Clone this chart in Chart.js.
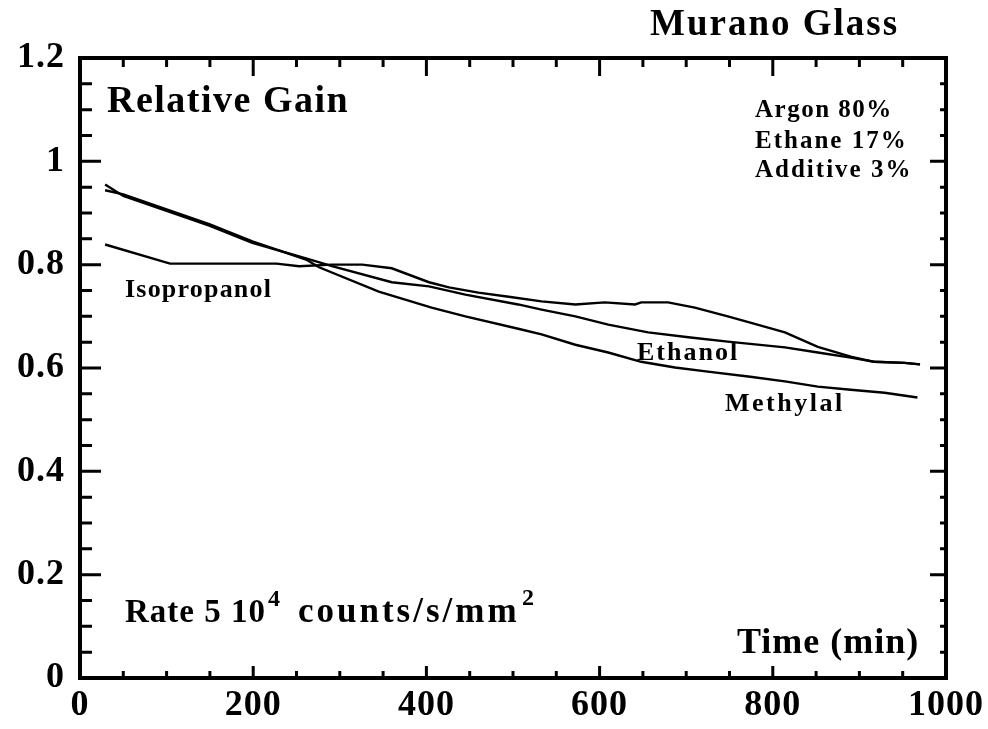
<!DOCTYPE html>
<html>
<head>
<meta charset="utf-8">
<script src="https://cdn.jsdelivr.net/npm/chart.js@4.4.1/dist/chart.umd.min.js"></script>
<style>
  html, body { margin: 0; padding: 0; background: #fff; }
  #wrap { width: 988px; height: 729px; position: relative; }
</style>
</head>
<body>
<div id="wrap"><canvas id="gainChart"></canvas></div>
<script>
// values (time in min, relative gain)
const timeMethylal = [29, 50, 100, 150, 199, 261, 276, 345, 406, 445, 506, 533, 572, 610, 648, 687, 725, 774, 814, 852, 890, 929, 967];
const gainMethylal = [0.944, 0.936, 0.907, 0.878, 0.845, 0.810, 0.795, 0.748, 0.717, 0.700, 0.676, 0.665, 0.645, 0.630, 0.612, 0.601, 0.593, 0.583, 0.574, 0.564, 0.558, 0.552, 0.543];

const timeEthanol = [29, 50, 100, 150, 199, 261, 291, 360, 403, 445, 506, 533, 572, 610, 656, 705, 748, 814, 852, 890, 917, 952, 970];
const gainEthanol = [0.955, 0.933, 0.904, 0.875, 0.842, 0.812, 0.797, 0.766, 0.758, 0.742, 0.723, 0.713, 0.700, 0.684, 0.669, 0.659, 0.651, 0.640, 0.630, 0.620, 0.612, 0.610, 0.607];

const timeIsopropanol = [29, 104, 227, 253, 291, 326, 360, 403, 426, 460, 495, 533, 572, 606, 641, 648, 679, 710, 748, 774, 814, 852, 890, 917, 952, 970];
const gainIsopropanol = [0.839, 0.802, 0.802, 0.797, 0.800, 0.800, 0.793, 0.766, 0.756, 0.746, 0.738, 0.729, 0.723, 0.727, 0.723, 0.727, 0.727, 0.717, 0.700, 0.688, 0.669, 0.641, 0.622, 0.612, 0.610, 0.607];

const xTickLabels = ['0', '200', '400', '600', '800', '1000'];
const yTickLabels = ['0', '0.2', '0.4', '0.6', '0.8', '1', '1.2'];

const SERIF = '"Liberation Serif", "Times New Roman", serif';

function toPoints(xs, ys) {
    return xs.map((x, i) => ({ x: x, y: ys[i] }));
}

// inward tick marks + frame, like the original plot
const frameTicks = {
    id: 'frameTicks',
    beforeDraw(chart) {
        chart.ctx.letterSpacing = '1px';
    },
    afterDatasetsDraw(chart) {
        const ctx = chart.ctx;
        const a = chart.chartArea;
        const xs = chart.scales.x;
        const ys = chart.scales.y;
        ctx.save();
        ctx.strokeStyle = '#000';
        ctx.lineCap = 'butt';
        ctx.lineWidth = 3;
        ctx.beginPath();
        for (let v = 50; v < 1000; v += 50) {
            const px = xs.getPixelForValue(v);
            const major = v % 200 === 0;
            ctx.moveTo(px, a.bottom); ctx.lineTo(px, a.bottom - (major ? 12 : 7));
            ctx.moveTo(px, a.top); ctx.lineTo(px, a.top + (major ? 18 : 9));
        }
        for (let k = 1; k < 24; k++) {
            const v = k * 0.05;
            const py = ys.getPixelForValue(v);
            const major = k % 4 === 0;
            ctx.moveTo(a.left, py); ctx.lineTo(a.left + (major ? 21 : 12), py);
            ctx.moveTo(a.right + 2, py); ctx.lineTo(a.right - (major ? 16 : 6), py);
        }
        ctx.stroke();
        ctx.lineWidth = 4;
        ctx.strokeRect(a.left, a.top, a.right - a.left, a.bottom - a.top);
        ctx.restore();
    },
    afterDraw(chart) {
        const ctx = chart.ctx;
        ctx.save();
        ctx.fillStyle = '#000';
        ctx.textAlign = 'left';
        ctx.textBaseline = 'alphabetic';
        const put = (txt, x, y, size, ls) => {
            ctx.font = 'bold ' + size + 'px ' + SERIF;
            ctx.letterSpacing = ls + 'px';
            ctx.fillText(txt, x, y);
        };
        put('Murano Glass', 650, 35, 37, 2);
        put('Relative Gain', 107, 112, 38, 1.5);
        put('Argon 80%', 755, 117, 25, 1.5);
        put('Ethane 17%', 755, 148, 25, 2);
        put('Additive 3%', 755, 177, 25, 2);
        put('Isopropanol', 125, 297, 26, 1.2);
        put('Ethanol', 637, 360, 26, 2);
        put('Methylal', 725, 411, 26, 2.5);
        put('Rate 5 10', 125, 622, 33, 1);
        put('4', 268, 606, 24, 0);
        put('counts/s/mm', 298, 622, 35, 3);
        put('2', 522, 605, 24, 0);
        put('Time (min)', 737, 653, 36, 1);
        ctx.restore();
        ctx.letterSpacing = '0px';
    }
};

const line = (label, xs, ys) => ({
    label: label,
    data: toPoints(xs, ys),
    borderColor: '#000',
    borderWidth: 2.4,
    pointRadius: 0,
    tension: 0,
    fill: false
});

const gainChart = new Chart(document.getElementById('gainChart').getContext('2d'), {
    type: 'line',
    data: {
        datasets: [
            line('Methylal', timeMethylal, gainMethylal),
            line('Ethanol', timeEthanol, gainEthanol),
            line('Isopropanol', timeIsopropanol, gainIsopropanol)
        ]
    },
    options: {
        responsive: true,
        maintainAspectRatio: false,
        animation: false,
        layout: { padding: { top: 58, right: 39, bottom: 0, left: 0 } },
        plugins: {
            legend: { display: false },
            tooltip: { enabled: false }
        },
        scales: {
            x: {
                type: 'linear',
                min: 0,
                max: 1000,
                grid: { display: false, drawTicks: false },
                border: { display: false },
                ticks: {
                    stepSize: 200,
                    maxRotation: 0,
                    autoSkip: false,
                    padding: 6,
                    color: '#000',
                    font: { family: SERIF, size: 36, weight: 'bold' },
                    callback: (v, i) => xTickLabels[i]
                },
                afterFit: s => { s.height = 51; }
            },
            y: {
                min: 0,
                max: 1.2,
                grid: { display: false, drawTicks: false },
                border: { display: false },
                ticks: {
                    stepSize: 0.2,
                    padding: 15,
                    color: '#000',
                    font: { family: SERIF, size: 36, weight: 'bold' },
                    callback: (v, i) => yTickLabels[i]
                },
                afterFit: s => { s.width = 80; }
            }
        }
    },
    plugins: [frameTicks]
});
</script>
</body>
</html>
